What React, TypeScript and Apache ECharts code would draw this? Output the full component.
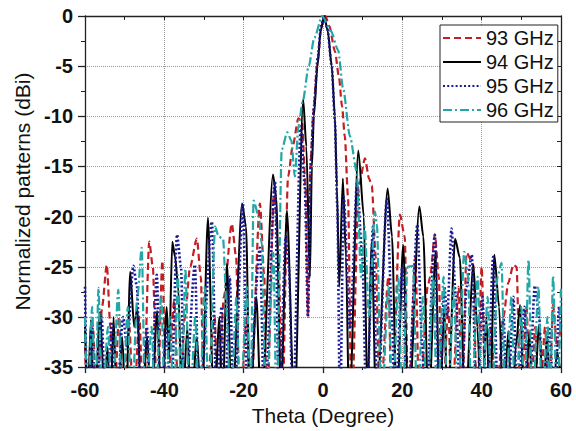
import React, { useEffect, useRef } from "react";
import * as echarts from "echarts";

// theta (deg), normalized pattern (dBi)
const s93: number[][] = [
  [-60,-33],[-59.2,-40],[-58,-31],[-57,-40],[-55.7,-29],[-54.5,-24.8],[-53.6,-31],[-52.8,-40],[-51.4,-30],[-50.3,-40],
  [-48.8,-31],[-47.8,-40],[-46.3,-30],[-45.3,-40],[-43.8,-22.5],[-42.9,-25],[-41.8,-40],[-40.5,-24.4],[-39.5,-40],[-37.5,-28.4],
  [-36.3,-40],[-34.8,-30],[-33.5,-25],[-31.8,-22.2],[-30.8,-26],[-30,-40],[-27.3,-30],[-26.5,-40],[-25,-28],[-23,-20.7],
  [-21.9,-24],[-21,-40],[-19.2,-30],[-18.4,-40],[-15.9,-18.7],[-14.8,-26],[-14.2,-40],[-12.3,-17.3],[-11.2,-24],[-10.3,-40],
  [-8.8,-16],[-7.6,-12.9],[-6.2,-10.2],[-5.3,-10.5],[-4.4,-17],[-3.8,-30],[-3.2,-15],[-2.4,-9.5],[-1.5,-5],[-0.4,-1],
  [0.6,0],[1.6,-1],[3,-3.5],[4,-6],[4.8,-9],[5.5,-12],[6.3,-18],[7.2,-40],[9,-17],[10.6,-14.2],
  [11.6,-16.2],[12.3,-16.9],[13.3,-24],[14.3,-40],[16.5,-26],[17.3,-40],[19.4,-19.8],[20.6,-22],[21.5,-40],[23.3,-24],
  [24.3,-40],[26.4,-27],[27,-26],[28.2,-21.8],[29.2,-26],[30,-40],[31.6,-29],[32.4,-40],[34.2,-27],[35,-40],
  [36.2,-23.6],[37.9,-24.8],[38.8,-40],[40,-25],[41,-40],[42.5,-31],[43.5,-40],[45.5,-30],[46.7,-26.6],[48,-24.8],
  [48.8,-25],[49.8,-40],[51.3,-29],[52.3,-40],[53.5,-31],[54.5,-40],[56,-31],[57,-40],[58,-28.8],[59,-33],[60,-31]
];

const s94: number[][] = [
  [-60,-31],[-59.3,-38],[-58.5,-30.3],[-57.7,-40],[-56.2,-29.5],[-55.2,-37],[-54.3,-33],[-53.6,-40],[-52.8,-30],[-51.9,-40],
  [-50.6,-32],[-49.7,-40],[-48.6,-25.5],[-47.6,-31],[-46.8,-29],[-45.8,-40],[-44.3,-32],[-43.3,-40],[-41.8,-29.4],[-40.7,-40],
  [-39.4,-29],[-38.8,-34],[-38,-22.5],[-37.3,-24],[-36.5,-27],[-35.5,-40],[-34.2,-31],[-33.3,-40],[-31.8,-32],[-30.6,-40],
  [-29,-20.1],[-27.5,-40],[-26.1,-30],[-25.4,-40],[-24.2,-24.7],[-23,-40],[-20.4,-18.7],[-19.4,-21],[-18.4,-40],[-16.8,-28],
  [-15.6,-40],[-12.6,-15.8],[-11.8,-18],[-10.6,-38],[-9.1,-19.4],[-7.2,-40],[-5,-8.3],[-4.2,-13],[-3.3,-26],[-2.8,-15],
  [-2.3,-10],[-1.4,-5],[-0.6,-1.5],[0.3,0],[1.2,-1.5],[2.2,-5],[3,-10],[3.5,-17],[4.1,-27],[5,-16.2],
  [5.8,-24],[6.6,-40],[8.9,-13.4],[10.3,-20],[11.2,-38],[12.3,-22.5],[13.4,-40],[16.3,-17.2],[17.4,-22],[18.6,-40],
  [20.2,-22.8],[21.6,-40],[24.3,-19],[25.3,-22],[26.6,-40],[28.4,-23.5],[29.4,-40],[30.6,-29],[31.4,-40],[33.3,-22.2],
  [34.5,-24.1],[35.8,-40],[37.9,-24.8],[38.9,-31],[40,-40],[41.2,-30],[42.1,-40],[43.2,-23.8],[44.4,-29],[45.5,-40],
  [46.7,-31.4],[47.6,-40],[48.6,-33],[49.7,-28.8],[50.8,-40],[52,-31.5],[53,-40],[54.5,-30.8],[55.5,-38],[56.5,-32],
  [57.6,-40],[59,-33.5],[60,-36]
];

const s95: number[][] = [
  [-60,-27],[-59.4,-40],[-58.2,-31],[-57.3,-40],[-55.8,-30],[-54.8,-40],[-53.2,-30.5],[-52.2,-40],[-50.4,-30],[-49.4,-33],
  [-47.8,-24.9],[-46.9,-27],[-45.9,-40],[-44.4,-31],[-43.4,-40],[-41.9,-25.8],[-40.9,-40],[-39.4,-31],[-38.4,-40],[-36.8,-21.8],
  [-35.8,-25],[-34.9,-40],[-32.3,-24.8],[-31.2,-40],[-28,-20.5],[-26.8,-40],[-25.6,-29],[-24.8,-40],[-23.5,-26],[-22.5,-40],
  [-20.2,-18.7],[-19,-40],[-15.9,-23.1],[-14.8,-40],[-12.1,-16.5],[-11.1,-40],[-9.4,-22],[-8.6,-25],[-7.6,-40],[-5.6,-11],
  [-4.6,-17],[-3.8,-30],[-3,-14],[-2.3,-9],[-1.3,-4],[-0.5,-1],[0.3,0],[1.1,-1.3],[2.2,-5],[3,-10.5],
  [3.6,-19],[4.3,-40],[5.2,-18],[6.8,-31.2],[8.6,-16.5],[9.9,-24],[11,-40],[12.6,-21],[13.7,-40],[16.1,-18.2],
  [17.4,-30],[18.1,-40],[20,-25],[21.2,-40],[23.8,-20.8],[25,-33],[25.8,-40],[28.2,-21.8],[29.3,-40],[30.6,-27],
  [31.3,-30],[32.4,-21.2],[33.5,-28],[34.7,-40],[36.2,-27],[37.5,-23.8],[38.8,-40],[40.2,-28],[41.3,-40],[42.9,-24],
  [44.2,-40],[45.5,-30],[46.5,-40],[48,-28],[49,-40],[50.8,-29],[51.8,-40],[53.4,-26.9],[54.5,-30],[55.5,-40],
  [57,-31],[58.4,-40],[59.5,-29],[60,-31]
];

const s96: number[][] = [
  [-60,-30],[-59.3,-40],[-58.2,-29],[-57.4,-40],[-56.6,-27.1],[-55.7,-40],[-54.2,-31],[-53.2,-40],[-51.6,-27.3],[-50.6,-40],
  [-49.2,-29],[-48.3,-40],[-46.8,-28],[-45.7,-23.1],[-44.8,-40],[-43.2,-31],[-42.3,-40],[-40.8,-28],[-39.8,-40],[-38.6,-30],
  [-37.6,-40],[-36.6,-25.8],[-35.7,-40],[-34.7,-25.2],[-33.6,-40],[-32.2,-30],[-31.2,-40],[-29.8,-27],[-28.8,-40],[-27.2,-21],
  [-26.3,-22],[-25.2,-22.2],[-24.2,-30],[-23.3,-40],[-21.8,-28],[-20.9,-40],[-19.2,-27],[-18.3,-40],[-17.5,-18.4],[-16.2,-20],
  [-15.4,-22.8],[-14.4,-40],[-12.5,-23.6],[-11.7,-40],[-10.4,-13.3],[-9,-11.6],[-8,-12.4],[-7.1,-16],[-6.2,-11],[-5.1,-8.5],
  [-3.6,-5],[-2.2,-2.2],[-0.2,0],[2,-1.5],[3.8,-3.4],[5.1,-7.3],[6.8,-12],[8.5,-15.5],[9.6,-26],[10.5,-21],
  [11.6,-30],[13.1,-19.5],[13.6,-20.8],[14.7,-40],[16.5,-27],[17.5,-40],[19,-26],[20,-40],[21.3,-25],[22.7,-24.9],
  [23.8,-40],[25.2,-28],[26.2,-40],[27.8,-26],[28.8,-40],[30.4,-26],[31.4,-40],[33,-27],[34,-40],[35.6,-23.5],
  [36.6,-26],[37.4,-40],[39,-26],[40,-40],[41.5,-28],[42.5,-40],[44,-26],[45,-24.6],[46,-40],[47.5,-28],
  [48.5,-40],[50,-29],[50.8,-40],[51.8,-24.3],[52.8,-40],[54.3,-27],[55.3,-40],[56.6,-30],[57.2,-40],[58,-25.9],
  [59,-40],[60,-27]
];

const seriesNames = ["93 GHz", "94 GHz", "95 GHz", "96 GHz"];
const xTitle = "Theta (Degree)";
const yTitle = "Normalized patterns (dBi)";

const FONT = "'Liberation Sans', Arial, sans-serif";

export default function App() {
  const ref = useRef<HTMLDivElement>(null);
  useEffect(() => {
    document.body.style.margin = "0";
    if (!ref.current) return;
    const chart = echarts.init(ref.current, null, { renderer: "svg" });
    const styles = [
      { color: "#c41e24", type: [7, 4] as any, width: 2.2 },
      { color: "#000000", type: "solid" as any, width: 2 },
      { color: "#1a1a96", type: [2, 2.2] as any, width: 2.6 },
      { color: "#22a6a6", type: [9, 3, 2, 3] as any, width: 2.2 },
    ];
    const datas = [s93, s94, s95, s96];
    chart.setOption({
      animation: false,
      backgroundColor: "#ffffff",
      grid: { left: 85, right: 15, top: 16, bottom: 61, containLabel: false },
      legend: {
        data: seriesNames,
        orient: "vertical",
        left: 440,
        top: 25,
        borderColor: "#222",
        borderWidth: 1,
        backgroundColor: "#fff",
        padding: [3, 4, 2, 2],
        itemWidth: 38,
        itemHeight: 12,
        itemGap: 4,
        itemStyle: { opacity: 0 },
        textStyle: { fontSize: 20, lineHeight: 20, color: "#111", fontFamily: FONT },
      },
      xAxis: [
        {
          type: "value",
          min: -60,
          max: 60,
          interval: 20,
          name: xTitle,
          nameLocation: "middle",
          nameGap: 35,
          nameTextStyle: { fontSize: 21, color: "#111", fontFamily: FONT },
          axisLine: { show: true, onZero: false, lineStyle: { color: "#222", width: 1.3 } },
          axisTick: { show: true, inside: false, length: 6, lineStyle: { color: "#222", width: 1.3 } },
          minorTick: { show: true, splitNumber: 2, length: 3, lineStyle: { color: "#222", width: 1 } },
          axisLabel: { fontSize: 20, fontWeight: "bold", color: "#111", margin: 13, fontFamily: FONT },
          splitLine: { show: true, lineStyle: { color: "#999", type: "dotted", width: 1 } },
        },
        {
          type: "value",
          position: "top",
          min: -60,
          max: 60,
          interval: 10,
          axisLine: { show: true, onZero: false, lineStyle: { color: "#222", width: 1.3 } },
          axisTick: { show: true, inside: true, length: 4, lineStyle: { color: "#222", width: 1 } },
          axisLabel: { show: false },
          splitLine: { show: false },
        },
      ],
      yAxis: [
        {
          type: "value",
          min: -35,
          max: 0,
          interval: 5,
          name: yTitle,
          nameLocation: "middle",
          nameGap: 52,
          nameTextStyle: { fontSize: 21, color: "#111", fontFamily: FONT },
          axisLine: { show: true, onZero: false, lineStyle: { color: "#222", width: 1.3 } },
          axisTick: { show: true, inside: false, length: 7, lineStyle: { color: "#222", width: 1.3 } },
          minorTick: { show: true, splitNumber: 2, length: 4, lineStyle: { color: "#222", width: 1 } },
          axisLabel: { fontSize: 20, fontWeight: "bold", color: "#111", margin: 12, fontFamily: FONT },
          splitLine: { show: true, lineStyle: { color: "#999", type: "dotted", width: 1 } },
        },
        {
          type: "value",
          position: "right",
          min: -35,
          max: 0,
          interval: 2.5,
          axisLine: { show: true, onZero: false, lineStyle: { color: "#222", width: 1.3 } },
          axisTick: { show: true, inside: true, length: 4, lineStyle: { color: "#222", width: 1 } },
          axisLabel: { show: false },
          splitLine: { show: false },
        },
      ],
      series: datas.map((d, i) => ({
        name: seriesNames[i],
        type: "line",
        data: d,
        xAxisIndex: 0,
        yAxisIndex: 0,
        showSymbol: false,
        symbol: "none",
        smooth: 0.25,
        smoothMonotone: "x",
        clip: true,
        color: styles[i].color,
        lineStyle: { color: styles[i].color, type: styles[i].type, width: styles[i].width },
      })),
    });
    return () => chart.dispose();
  }, []);
  return (
    <div
      ref={ref}
      style={{ position: "absolute", left: 0, top: 0, width: 576, height: 431 }}
    />
  );
}
